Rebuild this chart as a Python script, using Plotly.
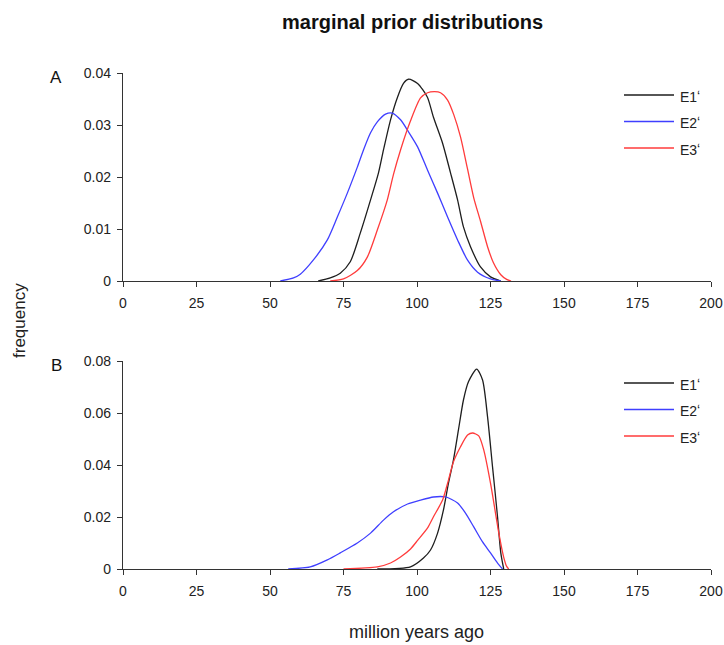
import plotly.graph_objects as go

# ---- data: marginal prior densities (age in Ma, frequency) ----
series_names = ["E1", "E2", "E3"]
series_labels = ["E1\u02bb", "E2\u02bb", "E3\u02bb"]
series_colors = ["#1e1e1e", "#3f3fff", "#ff3b3b"]

# Panel A
a_e1_x = [66.4, 70.5, 73.9, 77.3, 80.7, 84.2, 86.9, 88.6, 91.0, 93.4, 95.4, 97.1, 100.2,
          103.5, 105.6, 108.7, 111.4, 113.8, 115.8, 118.2, 121.6, 125.0, 128.5]
a_e1_y = [0.0, 0.0006, 0.0015, 0.0037, 0.0092, 0.0156, 0.0208, 0.0252, 0.0310, 0.0354, 0.0380,
          0.0388, 0.0380, 0.0354, 0.0315, 0.0265, 0.0208, 0.0156, 0.0104, 0.0066, 0.0027, 0.0008, 0.0]

a_e2_x = [53.5, 58.0, 60.3, 64.7, 69.5, 72.9, 76.3, 79.7, 81.8, 84.2, 86.5, 89.3, 91.6, 94.4,
          97.1, 100.2, 103.6, 107.0, 110.4, 113.8, 117.2, 120.6, 125.0, 128.5]
a_e2_y = [0.0, 0.0006, 0.0013, 0.0040, 0.0079, 0.0123, 0.0169, 0.0219, 0.0252, 0.0285, 0.0306,
          0.0321, 0.0323, 0.0310, 0.0287, 0.0258, 0.0213, 0.0169, 0.0123, 0.0079, 0.0040, 0.0017,
          0.0004, 0.0]

a_e3_x = [70.5, 75.0, 79.7, 83.1, 86.5, 89.9, 92.0, 94.4, 97.8, 101.2, 103.6, 106.0, 108.0,
          110.4, 112.5, 114.8, 117.2, 119.3, 121.6, 124.0, 126.0, 128.5, 130.5, 132.0]
a_e3_y = [0.0, 0.0004, 0.0020, 0.0046, 0.0098, 0.0156, 0.0205, 0.0252, 0.0308, 0.0352, 0.0362,
          0.0364, 0.0362, 0.0348, 0.0320, 0.0277, 0.0215, 0.0160, 0.0115, 0.0066, 0.0035, 0.0012,
          0.0003, 0.0]

# Panel B
b_e1_x = [86.5, 97.8, 102.2, 104.6, 107.0, 109.0, 110.7, 112.4, 114.1, 115.8, 117.5, 120.3,
          122.3, 124.0, 125.7, 127.4, 128.5, 129.5]
b_e1_y = [0.0, 0.0008, 0.0042, 0.0073, 0.0138, 0.0227, 0.0330, 0.0420, 0.0535, 0.0650, 0.0720,
          0.0769, 0.0727, 0.0585, 0.0392, 0.0200, 0.0062, 0.0]

b_e2_x = [56.2, 63.7, 69.5, 73.9, 79.7, 84.2, 88.6, 92.0, 96.8, 101.2, 105.6, 109.7, 113.8,
          116.5, 119.3, 122.3, 125.0, 127.4, 129.1]
b_e2_y = [0.0, 0.0008, 0.0035, 0.0062, 0.0100, 0.0138, 0.0188, 0.0220, 0.0250, 0.0265, 0.0277,
          0.0277, 0.0254, 0.0215, 0.0162, 0.0104, 0.0062, 0.0023, 0.0]

b_e3_x = [75.0, 86.5, 91.0, 94.4, 97.8, 100.2, 103.6, 105.6, 108.7, 110.7, 112.4, 114.8, 117.2,
          118.9, 121.0, 122.7, 125.0, 126.7, 127.8, 129.5, 130.5, 131.2]
b_e3_y = [0.0, 0.0008, 0.0023, 0.0046, 0.0077, 0.0110, 0.0158, 0.0201, 0.0265, 0.0342, 0.0412,
          0.0470, 0.0515, 0.0523, 0.0512, 0.0458, 0.0330, 0.0215, 0.0140, 0.0045, 0.0010, 0.0]

x_ticks = [0, 25, 50, 75, 100, 125, 150, 175, 200]
a_y_ticks = [0, 0.01, 0.02, 0.03, 0.04]
a_y_labels = ["0", "0.01", "0.02", "0.03", "0.04"]
b_y_ticks = [0, 0.02, 0.04, 0.06, 0.08]
b_y_labels = ["0", "0.02", "0.04", "0.06", "0.08"]

panels = [
    ("x", "y", [(a_e1_x, a_e1_y), (a_e2_x, a_e2_y), (a_e3_x, a_e3_y)]),
    ("x2", "y2", [(b_e1_x, b_e1_y), (b_e2_x, b_e2_y), (b_e3_x, b_e3_y)]),
]

FONT = "Liberation Sans, Arial, sans-serif"
AXIS_COLOR = "#333333"
W, H = 724, 645

fig = go.Figure()
for xa, ya, curves in panels:
    for name, color, (xs, ys) in zip(series_names, series_colors, curves):
        fig.add_trace(go.Scatter(
            x=xs, y=ys, xaxis=xa, yaxis=ya, mode="lines", name=name,
            line=dict(color=color, width=1.3, shape="spline", smoothing=0.7),
            showlegend=False, hoverinfo="skip",
        ))

x_dom = [123 / W, 711 / W]
dom_a = [1 - 281 / H, 1 - 73 / H]
dom_b = [1 - 569 / H, 1 - 361 / H]


def axis_common():
    return dict(ticks="outside", ticklen=5, tickwidth=1.3, tickcolor=AXIS_COLOR,
                showline=True, linecolor=AXIS_COLOR, linewidth=1.3, showgrid=False,
                zeroline=False, tickfont=dict(family=FONT, size=14, color="#222222"),
                automargin=False, fixedrange=True)


def xaxis_style(anchor):
    return dict(domain=x_dom, anchor=anchor, range=[0, 200], tickvals=x_ticks,
                ticklabelstandoff=4, **axis_common())


def yaxis_style(anchor, dom, rng, vals, labels):
    return dict(domain=dom, anchor=anchor, range=rng, tickvals=vals, ticktext=labels,
                ticklabelstandoff=3, **axis_common())


fig.update_layout(
    width=W, height=H,
    margin=dict(l=0, r=0, t=0, b=0, pad=0, autoexpand=False),
    paper_bgcolor="white", plot_bgcolor="white",
    xaxis=xaxis_style("y"),
    yaxis=yaxis_style("x", dom_a, [0, 0.04], a_y_ticks, a_y_labels),
    xaxis2=xaxis_style("y2"),
    yaxis2=yaxis_style("x2", dom_b, [0, 0.08], b_y_ticks, b_y_labels),
)

annotations = [
    dict(text="<b>marginal prior distributions</b>", x=412 / W, y=1 - 22 / H,
         font=dict(size=20, family=FONT, color="#111111")),
    dict(text="frequency", x=20 / W, y=1 - 321 / H, textangle=-90,
         font=dict(size=17, family=FONT, color="#222222")),
    dict(text="million years ago", x=417 / W, y=1 - 632 / H,
         font=dict(size=18, family=FONT, color="#222222")),
    dict(text="A", x=56 / W, y=1 - 77 / H, font=dict(size=17, family=FONT, color="#111111")),
    dict(text="B", x=56 / W, y=1 - 365 / H, font=dict(size=17, family=FONT, color="#111111")),
]

# per-panel legends: a short line sample followed by the series label
shapes = []
for top in (95, 383):
    for i, (label, color) in enumerate(zip(series_labels, series_colors)):
        yy = 1 - (top + i * 26.5) / H
        shapes.append(dict(type="line", xref="paper", yref="paper",
                           x0=624 / W, x1=674 / W, y0=yy, y1=yy,
                           line=dict(color=color, width=1.3)))
        annotations.append(dict(text=label, x=678 / W, y=yy - 1.5 / H, xanchor="left",
                                font=dict(size=14, family=FONT, color="#222222")))

for a in annotations:
    a.setdefault("xanchor", "center")
    a.update(xref="paper", yref="paper", yanchor="middle", showarrow=False)

fig.update_layout(annotations=annotations, shapes=shapes)

fig.write_html("out.html")
